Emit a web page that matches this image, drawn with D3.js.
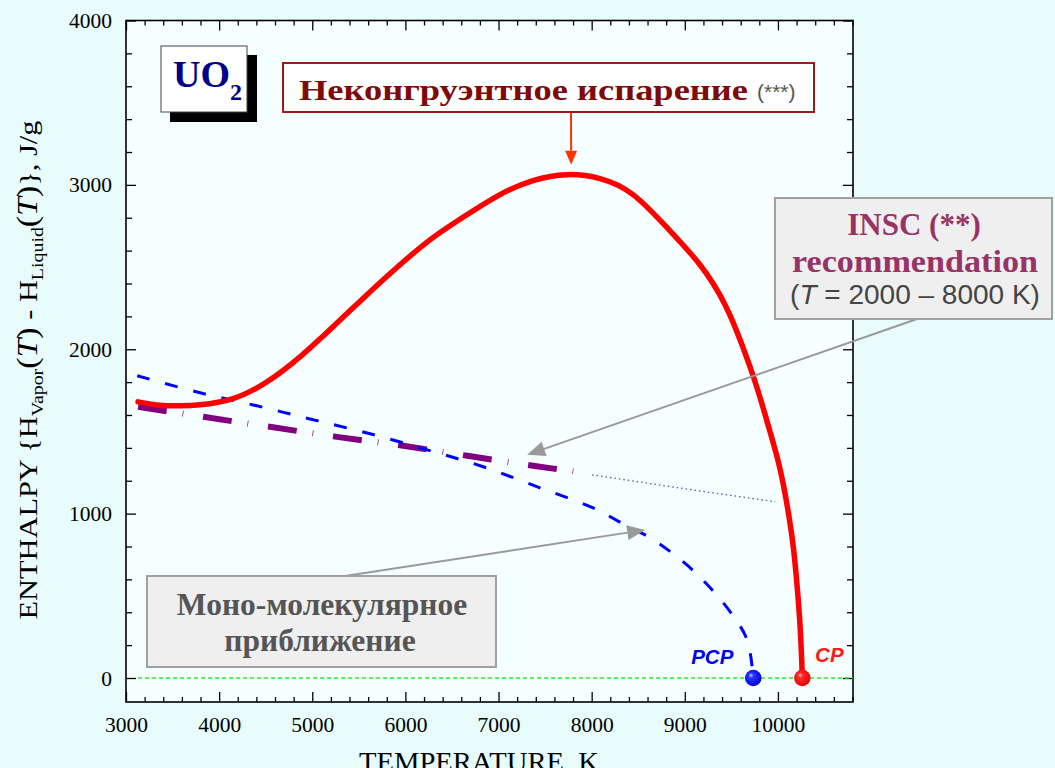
<!DOCTYPE html>
<html>
<head>
<meta charset="utf-8">
<script src="https://cdn.jsdelivr.net/npm/d3@7"></script>
<style>
  html, body { margin: 0; padding: 0; background: #e8fcfc; }
  svg { display: block; }
</style>
</head>
<body>
<svg id="chart" width="1055" height="768"></svg>
<script>
// ---- data (temperature in K, enthalpy of vaporization in J/g) ----
// incongruent vaporization, ends at the critical point CP
const incongruentT = [3129, 3365, 3580, 3795, 4149, 4514, 4868, 5223, 5588, 5942, 6296, 6662, 7016, 7370, 7735, 8090, 8444, 8809, 9163, 9432, 9614, 9765, 9894, 10012, 10098, 10162, 10205, 10237, 10255, 10262];
const incongruentH = [1680, 1659, 1656, 1662, 1699, 1802, 1954, 2137, 2332, 2514, 2679, 2819, 2941, 3026, 3062, 3038, 2941, 2740, 2514, 2271, 2027, 1784, 1540, 1297, 1053, 810, 566, 323, 110, 0];

// mono-molecular approximation, ends at the pseudo-critical point PCP
const monoT = [3120, 3795, 4405, 5010, 5620, 6235, 6835, 7445, 8015, 8360, 8630, 8985, 9275, 9520, 9670, 9735];
const monoH = [1839, 1735, 1656, 1571, 1486, 1388, 1285, 1157, 1035, 931, 852, 706, 548, 377, 231, 0];

// INSC recommendation and its extrapolation
const inscT = [3130, 3830, 4545, 5265, 5975, 6665, 7370, 7930];
const inscH = [1650, 1589, 1528, 1467, 1413, 1352, 1291, 1248];
const inscExtT = [8005, 8918, 9971];
const inscExtH = [1236, 1158, 1072];

// critical points
const pointNames = ["PCP", "CP"];
const pointT = [9735, 10262];
const pointH = [0, 0];

// zero line span
const zeroT = [3130, 10806];

// axes
const xTickLabels = [3000, 4000, 5000, 6000, 7000, 8000, 9000, 10000];
const yTickLabels = [0, 1000, 2000, 3000, 4000];

// ---- layout ----
const svg = d3.select("#chart");
const plotL = 126, plotR = 853, plotT = 20.5, plotB = 702;
const x = d3.scaleLinear().domain([3000, 10806]).range([plotL, plotR]);
const y = d3.scaleLinear().domain([-146, 4000]).range([plotB, plotT]);

svg.append("rect").attr("width", 1055).attr("height", 768).attr("fill", "#e8fcfc");
svg.append("rect")
  .attr("x", plotL).attr("y", plotT)
  .attr("width", plotR - plotL).attr("height", plotB - plotT)
  .attr("fill", "#f5ffff");

// gradients for the spherical point markers
const defs = svg.append("defs");
function sphere(id, hi, mid, dark) {
  const g = defs.append("radialGradient").attr("id", id)
    .attr("cx", "45%").attr("cy", "45%").attr("r", "60%")
    .attr("fx", "35%").attr("fy", "32%");
  g.append("stop").attr("offset", "0%").attr("stop-color", hi);
  g.append("stop").attr("offset", "25%").attr("stop-color", mid);
  g.append("stop").attr("offset", "100%").attr("stop-color", dark);
}
sphere("gradPCP", "#c8ccff", "#2a33ff", "#0000c8");
sphere("gradCP", "#ffc8c8", "#ff2a2a", "#e00000");

// ---- axes: ticks point inward on all four sides ----
const xMinor = d3.range(3200, 10801, 200).filter(v => v % 1000 !== 0);
const yMinor = d3.range(200, 4000, 200).filter(v => v % 1000 !== 0);
const tickFont = "'Liberation Serif', 'Times New Roman', serif";

function axisGroup(gen, pos, values, size, labels) {
  const g = svg.append("g").attr("transform", pos);
  const a = gen.tickValues(values).tickSize(-size).tickSizeOuter(0);
  a.tickFormat(labels ? d3.format("d") : "");
  g.call(a);
  g.select(".domain").remove();
  g.selectAll(".tick line").attr("stroke", "#000").attr("stroke-width", 1.3);
  return g;
}
axisGroup(d3.axisBottom(x), `translate(0,${plotB})`, xMinor, 5, false);
axisGroup(d3.axisTop(x), `translate(0,${plotT})`, xMinor, 5, false);
axisGroup(d3.axisTop(x), `translate(0,${plotT})`, xTickLabels, 10, false);
axisGroup(d3.axisLeft(y), `translate(${plotL},0)`, yMinor, 6, false);
axisGroup(d3.axisRight(y), `translate(${plotR},0)`, yMinor, 6, false);
axisGroup(d3.axisRight(y), `translate(${plotR},0)`, yTickLabels, 10, false);

const xAx = axisGroup(d3.axisBottom(x).tickPadding(15), `translate(0,${plotB})`, xTickLabels, 10, true);
xAx.selectAll("text").attr("font-family", tickFont).attr("font-size", 21.5).attr("fill", "#000");
const yAx = axisGroup(d3.axisLeft(y).tickPadding(14), `translate(${plotL},0)`, yTickLabels, 10, true);
yAx.selectAll("text").attr("font-family", tickFont).attr("font-size", 21.5).attr("fill", "#000").attr("dy", "0.33em");

// frame
svg.append("rect")
  .attr("x", plotL).attr("y", plotT)
  .attr("width", plotR - plotL).attr("height", plotB - plotT)
  .attr("fill", "none").attr("stroke", "#000").attr("stroke-width", 1.6);

// axis titles
svg.append("text")
  .attr("x", 479).attr("y", 771)
  .attr("text-anchor", "middle")
  .attr("font-family", tickFont).attr("font-size", 27)
  .attr("textLength", 240).attr("lengthAdjust", "spacingAndGlyphs")
  .text("TEMPERATURE, K");

const yTitle = svg.append("text")
  .attr("transform", "translate(37,370) rotate(-90)")
  .attr("text-anchor", "middle")
  .attr("font-family", tickFont).attr("font-size", 26)
  .attr("textLength", 499).attr("lengthAdjust", "spacingAndGlyphs");
yTitle.append("tspan").text("ENTHALPY {H");
yTitle.append("tspan").attr("dy", 6).attr("font-size", 17).text("Vapor");
yTitle.append("tspan").attr("dy", -6).attr("font-size", 29).text("(");
yTitle.append("tspan").attr("font-style", "italic").attr("font-size", 29).text("T");
yTitle.append("tspan").attr("font-size", 29).text(")");
yTitle.append("tspan").text(" - H");
yTitle.append("tspan").attr("dy", 6).attr("font-size", 17).text("Liquid");
yTitle.append("tspan").attr("dy", -6).attr("font-size", 29).text("(");
yTitle.append("tspan").attr("font-style", "italic").attr("font-size", 29).text("T");
yTitle.append("tspan").attr("font-size", 29).text(")");
yTitle.append("tspan").text("},  J/g");

// ---- series ----
const zip = (a, b) => a.map((v, i) => [v, b[i]]);
const smooth = d3.line().x(d => x(d[0])).y(d => y(d[1])).curve(d3.curveCatmullRom.alpha(0.5));
const spline = d3.line().x(d => x(d[0])).y(d => y(d[1])).curve(d3.curveNatural);
const straight = d3.line().x(d => x(d[0])).y(d => y(d[1]));

// zero line
svg.append("path")
  .attr("d", straight(zeroT.map(t => [t, 0])))
  .attr("fill", "none").attr("stroke", "#22ee22").attr("stroke-width", 1.3)
  .attr("stroke-dasharray", "4,3");

// INSC extrapolation (dotted)
svg.append("path")
  .attr("d", straight(zip(inscExtT, inscExtH)))
  .attr("fill", "none").attr("stroke", "#4a5aa8").attr("stroke-width", 1.3)
  .attr("stroke-dasharray", "1.5,3");

// INSC recommendation (thick dash-dot)
svg.append("path")
  .attr("d", smooth(zip(inscT, inscH)))
  .attr("fill", "none").attr("stroke", "#800080").attr("stroke-width", 6)
  .attr("stroke-dasharray", "29,16,0.7,20");

// mono-molecular approximation
svg.append("path")
  .attr("d", smooth(zip(monoT, monoH)))
  .attr("fill", "none").attr("stroke", "#0000ff").attr("stroke-width", 3)
  .attr("stroke-dasharray", "13,16");

// incongruent vaporization
svg.append("path")
  .attr("d", spline(zip(incongruentT, incongruentH)))
  .attr("fill", "none").attr("stroke", "#ff0000").attr("stroke-width", 5.5)
  .attr("stroke-linecap", "round").attr("stroke-linejoin", "round");

// critical points
const ptColors = { PCP: "#0000ee", CP: "#ff1a1a" };
pointNames.forEach((n, i) => {
  svg.append("circle")
    .attr("cx", x(pointT[i])).attr("cy", y(pointH[i])).attr("r", 8.3)
    .attr("fill", `url(#grad${n})`);
});
const ptLabelFont = "'Liberation Sans', Arial, sans-serif";
svg.append("text")
  .attr("x", x(pointT[0]) - 41).attr("y", y(0) - 14)
  .attr("text-anchor", "middle")
  .attr("font-family", ptLabelFont).attr("font-size", 20.5)
  .attr("font-weight", "bold").attr("font-style", "italic")
  .attr("fill", ptColors.PCP).text(pointNames[0]);
svg.append("text")
  .attr("x", x(pointT[1]) + 27).attr("y", y(0) - 16)
  .attr("text-anchor", "middle")
  .attr("font-family", ptLabelFont).attr("font-size", 20.5)
  .attr("font-weight", "bold").attr("font-style", "italic")
  .attr("fill", ptColors.CP).text(pointNames[1]);

// ---- annotations ----
function arrow(x1, y1, x2, y2, color, headLen, headW, width) {
  const ang = Math.atan2(y2 - y1, x2 - x1);
  const bx = x2 - headLen * Math.cos(ang), by = y2 - headLen * Math.sin(ang);
  svg.append("line")
    .attr("x1", x1).attr("y1", y1).attr("x2", bx).attr("y2", by)
    .attr("stroke", color).attr("stroke-width", width);
  const px = -Math.sin(ang) * headW / 2, py = Math.cos(ang) * headW / 2;
  svg.append("path")
    .attr("d", `M${x2},${y2}L${bx + px},${by + py}L${bx - px},${by - py}Z`)
    .attr("fill", color);
}

// arrow targets on the curves (data coordinates)
const peakTip = [7780, 3123];
const inscTip = [7307, 1358];
const monoTip = [8575, 901];

arrow(571, 112, x(peakTip[0]), y(peakTip[1]), "#ff3300", 14, 12, 2);
arrow(917, 319, x(inscTip[0]), y(inscTip[1]), "#999999", 18, 15, 2);
arrow(345, 576, x(monoTip[0]), y(monoTip[1]), "#999999", 18, 15, 2);

const serifBox = "'Liberation Serif', 'Times New Roman', serif";

// UO2 badge with drop shadow
svg.append("rect").attr("x", 170).attr("y", 55).attr("width", 87).attr("height", 67).attr("fill", "#000");
svg.append("rect").attr("x", 161).attr("y", 46).attr("width", 86).attr("height", 66)
  .attr("fill", "#fff").attr("stroke", "#444").attr("stroke-width", 1);
const uo = svg.append("text").attr("x", 173).attr("y", 87)
  .attr("font-family", serifBox).attr("font-weight", "bold").attr("font-size", 38).attr("fill", "#000088");
uo.append("tspan").text("UO");
uo.append("tspan").attr("dy", 13).attr("font-size", 24).text("2");

// incongruent vaporization label
svg.append("rect").attr("x", 283).attr("y", 63).attr("width", 531).attr("height", 49)
  .attr("fill", "#fff").attr("stroke", "#9a1b1b").attr("stroke-width", 2);
svg.append("text").attr("x", 299).attr("y", 100)
  .attr("font-family", serifBox).attr("font-weight", "bold").attr("font-size", 29)
  .attr("fill", "#7f0a0a")
  .attr("textLength", 449).attr("lengthAdjust", "spacingAndGlyphs")
  .text("Неконгруэнтное испарение");
svg.append("text").attr("x", 757).attr("y", 99)
  .attr("font-family", ptLabelFont).attr("font-size", 21).attr("fill", "#555")
  .text("(***)");

// INSC recommendation label
svg.append("rect").attr("x", 775).attr("y", 198).attr("width", 277).attr("height", 121)
  .attr("fill", "#efefef").attr("stroke", "#a0a0a0").attr("stroke-width", 2);
svg.append("text").attr("x", 914).attr("y", 235).attr("text-anchor", "middle")
  .attr("font-family", serifBox).attr("font-weight", "bold").attr("font-size", 31)
  .attr("fill", "#993366").text("INSC (**)");
svg.append("text").attr("x", 915).attr("y", 272).attr("text-anchor", "middle")
  .attr("font-family", serifBox).attr("font-weight", "bold").attr("font-size", 31)
  .attr("fill", "#993366")
  .attr("textLength", 246).attr("lengthAdjust", "spacingAndGlyphs")
  .text("recommendation");
const range = svg.append("text").attr("x", 915).attr("y", 304).attr("text-anchor", "middle")
  .attr("font-family", ptLabelFont).attr("font-size", 28).attr("fill", "#444");
range.append("tspan").text("(");
range.append("tspan").attr("font-style", "italic").text("T");
range.append("tspan").text(" = 2000 – 8000 K)");

// mono-molecular label
svg.append("rect").attr("x", 147).attr("y", 576).attr("width", 349).attr("height", 91)
  .attr("fill", "#efefef").attr("stroke", "#a0a0a0").attr("stroke-width", 2);
svg.append("text").attr("x", 322).attr("y", 615).attr("text-anchor", "middle")
  .attr("font-family", serifBox).attr("font-weight", "bold").attr("font-size", 31.5)
  .attr("fill", "#555").text("Моно-молекулярное");
svg.append("text").attr("x", 320).attr("y", 651).attr("text-anchor", "middle")
  .attr("font-family", serifBox).attr("font-weight", "bold").attr("font-size", 31.5)
  .attr("fill", "#555").text("приближение");
</script>
</body>
</html>
